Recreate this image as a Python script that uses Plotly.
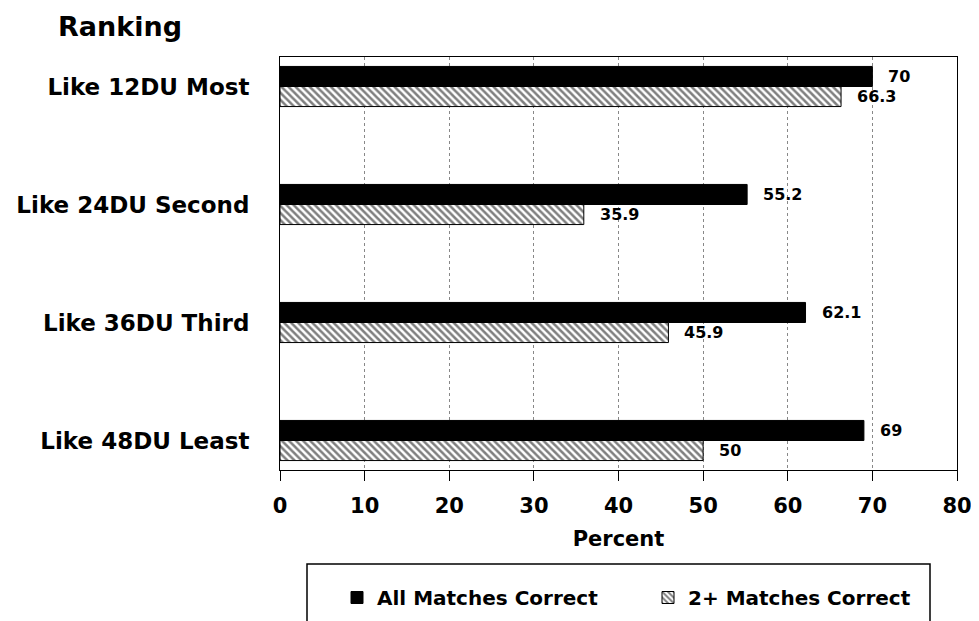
import plotly.graph_objects as go

categories = ["Like 12DU Most", "Like 24DU Second", "Like 36DU Third", "Like 48DU Least"]
all_matches = [70, 55.2, 62.1, 69]
two_plus = [66.3, 35.9, 45.9, 50]
series_names = ["All Matches Correct", "2+ Matches Correct"]
x_ticks = [0, 10, 20, 30, 40, 50, 60, 70, 80]

FONT = "DejaVu Sans"
OFF = 8  # page body margin
W, H = 979 - OFF, 621 - OFF
# plot area in reference-window pixels
PL, PR, PT, PB = 280, 957, 57, 470
ML = PL - OFF
MT = PT - OFF
MR = W - (PR - OFF)
MB = H - (PB - OFF)

fig = go.Figure()
fig.add_trace(go.Bar(
    y=categories, x=all_matches, orientation="h", name=series_names[0],
    marker=dict(color="black", line=dict(color="black", width=1)),
))
fig.add_trace(go.Bar(
    y=categories, x=two_plus, orientation="h", name=series_names[1],
    marker=dict(color="white", line=dict(color="black", width=1),
                pattern=dict(shape="\\", fgcolor="black", bgcolor="white", size=5, solidity=0.5)),
))

label_font = dict(family=FONT, size=16, color="black", weight="bold")
annotations = []
for cat, v in zip(categories, all_matches):
    annotations.append(dict(x=v, y=cat, xref="x", yref="y", text=f"{v:g}", showarrow=False,
                            xanchor="left", yanchor="middle", xshift=14, yshift=10, font=label_font))
for cat, v in zip(categories, two_plus):
    annotations.append(dict(x=v, y=cat, xref="x", yref="y", text=f"{v:g}", showarrow=False,
                            xanchor="left", yanchor="middle", xshift=14, yshift=-10, font=label_font))

pw = PR - PL
ph = PB - PT

def px_to_paper_x(px):
    return (px - PL) / pw

def px_to_paper_y(py):
    return (PB - py) / ph

shapes = [dict(type="rect", xref="paper", yref="paper",
               x0=px_to_paper_x(307), x1=px_to_paper_x(930),
               y0=px_to_paper_y(640), y1=px_to_paper_y(564),
               line=dict(color="black", width=1.5), fillcolor="rgba(0,0,0,0)", layer="above")]

fig.update_layout(
    width=W, height=H,
    margin=dict(l=ML, r=MR, t=MT, b=MB, autoexpand=False),
    paper_bgcolor="white", plot_bgcolor="white",
    barmode="group", bargap=0.66, bargroupgap=0,
    title=dict(text="Ranking", x=(58 - OFF) / W, xanchor="left", y=1 - (27 - OFF) / H, yanchor="middle",
               xref="container", yref="container",
               font=dict(family=FONT, size=27, color="black", weight="bold")),
    xaxis=dict(range=[0, 80], tickvals=x_ticks, ticktext=[str(t) for t in x_ticks],
               showgrid=True, gridcolor="#888", griddash="dot", gridwidth=1,
               showline=True, linecolor="black", linewidth=1, mirror=True,
               ticks="outside", ticklen=10, tickcolor="black", zeroline=False,
               ticklabelstandoff=7,
               tickfont=dict(family=FONT, size=21, color="black", weight="bold"),
               title=dict(text="Percent", standoff=14,
                          font=dict(family=FONT, size=21, color="black", weight="bold"))),
    yaxis=dict(range=[3.25, -0.25], showgrid=False, showline=True, linecolor="black",
               linewidth=1, mirror=True, ticks="", ticklabelstandoff=25,
               tickfont=dict(family=FONT, size=23, color="black", weight="bold")),
    showlegend=True,
    legend=dict(orientation="h", x=px_to_paper_x(337), xanchor="left",
                y=px_to_paper_y(578), yanchor="top", borderwidth=0, bgcolor="rgba(0,0,0,0)",
                entrywidth=266, traceorder="normal",
                font=dict(family=FONT, size=20, color="black", weight="bold")),
    annotations=annotations,
    shapes=shapes,
)

fig.write_html("out.html")
